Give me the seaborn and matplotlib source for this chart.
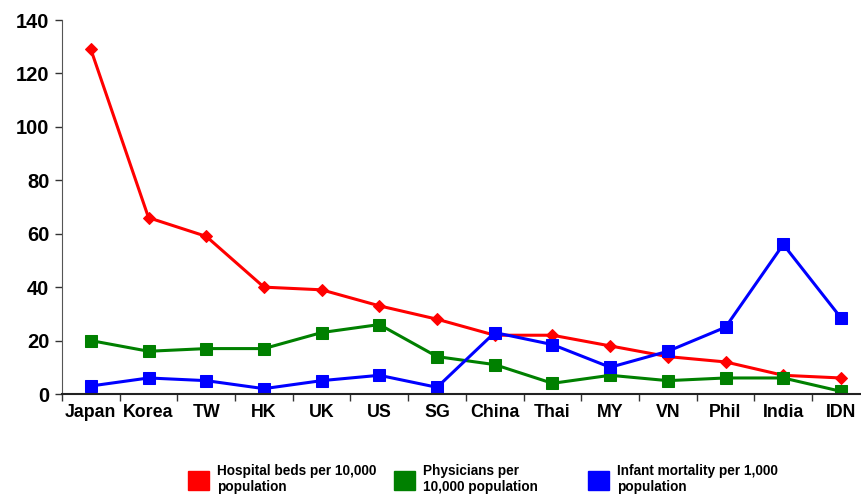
import matplotlib
matplotlib.use("Agg")
import matplotlib.pyplot as plt
from matplotlib.patches import Patch
from matplotlib.ticker import FixedLocator
import pandas as pd
import seaborn as sns

countries = ["Japan", "Korea", "TW", "HK", "UK", "US", "SG", "China",
             "Thai", "MY", "VN", "Phil", "India", "IDN"]
hospital_beds = [129, 66, 59, 40, 39, 33, 28, 22, 22, 18, 14, 12, 7, 6]
physicians = [20, 16, 17, 17, 23, 26, 14, 11, 4, 7, 5, 6, 6, 1]
infant_mortality = [3, 6, 5, 2, 5, 7, 2.5, 23, 18.5, 10, 16, 25, 56, 28.5]

series_names = ["Hospital beds per 10,000\npopulation",
                "Physicians per\n10,000 population",
                "Infant mortality per 1,000\npopulation"]
colores = ["#ff0000", "#008000", "#0000ff"]

sns.set_style("white")
plt.rcParams["font.family"] = ["Liberation Sans", "DejaVu Sans"]

fig = plt.figure(figsize=(8.62, 5.01), dpi=100)
ax = fig.add_axes([62 / 862, 1 - 394 / 501, 800 / 862, 374 / 501])

x = list(range(len(countries)))
for valores, color, marker, ms in zip([hospital_beds, physicians, infant_mortality],
                                      colores, ["D", "s", "s"], [6.5, 8.5, 8.5]):
    df = pd.DataFrame({"x": x, "y": valores})
    sns.lineplot(data=df, x="x", y="y", ax=ax, color=color, linewidth=2.2,
                 marker=marker, markersize=ms, markeredgecolor=color)

ax.set_xlim(-0.5, -0.5 + 800 / 57.7)
ax.set_ylim(0, 140)
ax.set_yticks(range(0, 141, 20))
ax.set_xticks(x)
ax.set_xticklabels(countries)
ax.xaxis.set_minor_locator(FixedLocator([i - 0.5 for i in range(len(countries) + 1)]))
ax.tick_params(axis="x", which="major", length=0, pad=7, labelcolor="black")
ax.tick_params(axis="x", which="minor", length=5, width=1, color="#333333", direction="out", bottom=True)
ax.tick_params(axis="y", length=5, width=1, color="#333333", direction="out", left=True, pad=4,
               labelcolor="black")
for lab in ax.get_xticklabels():
    lab.set_fontsize(12.8)
    lab.set_fontweight("bold")
for lab in ax.get_yticklabels():
    lab.set_fontsize(14.5)
    lab.set_fontweight("bold")
ax.set_xlabel("")
ax.set_ylabel("")
for s in ["top", "right"]:
    ax.spines[s].set_visible(False)
ax.spines["left"].set_color("#555555")
ax.spines["bottom"].set_color("#222222")
ax.spines["bottom"].set_linewidth(1.5)

# one legend per entry so each sits where the reference puts it
posiciones = [178, 384, 578]
for nombre, color, px in zip(series_names, colores, posiciones):
    fig.legend([Patch(facecolor=color, edgecolor=color)], [nombre], loc="lower left",
               bbox_to_anchor=(px / 862, -3 / 501), frameon=False, borderpad=0.2,
               prop={"weight": "bold", "size": 9.8}, labelcolor="black",
               handlelength=1.6, handleheight=1.7, handletextpad=0.55)

fig.savefig("out.png", dpi=100)
